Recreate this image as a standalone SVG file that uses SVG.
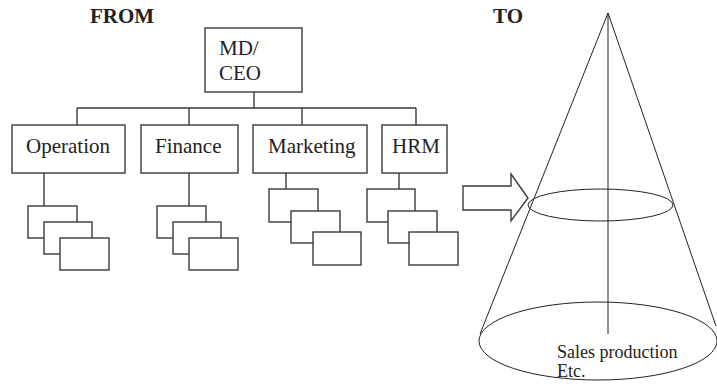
<svg xmlns="http://www.w3.org/2000/svg" width="717" height="386" viewBox="0 0 717 386">
<style>
.b{fill:#fff;stroke:#3a3a3a;stroke-width:1.4}
.l{fill:none;stroke:#3a3a3a;stroke-width:1.4}
.c{fill:none;stroke:#222;stroke-width:1}
.t{font-family:"Liberation Serif",serif;font-size:21px;fill:#222}
.h{font-family:"Liberation Serif",serif;font-size:21px;font-weight:bold;fill:#222}
.s{font-family:"Liberation Serif",serif;font-size:18px;fill:#222}
</style>
<rect width="717" height="386" fill="#fff"/>
<text class="h" x="90" y="23">FROM</text>
<text class="h" x="493" y="23">TO</text>
<g id="connectors">
<path class="l" d="M254 92V108M77 108H416M77 108V125M189 108V125M302 108V125M416 108V125"/>
<path class="l" d="M44 173V206M189 173V206M286 173V189M399 173V189"/>
</g>
<g id="ceo"><rect class="b" x="205" y="28" width="97" height="64"/><text class="t" x="219" y="55">MD/</text><text class="t" x="219" y="80">CEO</text></g>
<g id="operation"><rect class="b" x="12" y="125" width="113" height="48"/><text class="t" x="26" y="153">Operation</text></g>
<g id="finance"><rect class="b" x="141" y="125" width="97" height="48"/><text class="t" x="155" y="153">Finance</text></g>
<g id="marketing"><rect class="b" x="253" y="125" width="114" height="48"/><text class="t" x="268" y="153">Marketing</text></g>
<g id="hrm"><rect class="b" x="382" y="125" width="65" height="48"/><text class="t" x="392" y="153">HRM</text></g>
<g id="operation-sub"><rect class="b" x="28" y="206" width="49" height="32"/><rect class="b" x="44" y="222" width="48" height="32"/><rect class="b" x="60" y="238" width="49" height="32"/></g>
<g id="finance-sub"><rect class="b" x="157" y="206" width="49" height="32"/><rect class="b" x="173" y="222" width="48" height="32"/><rect class="b" x="189" y="238" width="49" height="32"/></g>
<g id="marketing-sub"><rect class="b" x="269" y="189" width="49" height="33"/><rect class="b" x="291" y="211" width="49" height="32"/><rect class="b" x="313" y="232" width="48" height="33"/></g>
<g id="hrm-sub"><rect class="b" x="367" y="189" width="48" height="33"/><rect class="b" x="388" y="211" width="49" height="32"/><rect class="b" x="409" y="232" width="49" height="33"/></g>
<g id="arrow"><path class="b" d="M463 186H511V174L528 198L511 221V210H463Z"/></g>
<g id="cone">
<path class="c" d="M480 334L608 13L716 326M608 13V334"/>
<ellipse class="c" cx="600.5" cy="205" rx="72.5" ry="16"/>
<ellipse class="c" cx="598" cy="341" rx="119" ry="39"/>
<text class="s" x="557" y="358">Sales production</text>
<text class="s" x="557" y="377">Etc.</text>
</g>
</svg>
